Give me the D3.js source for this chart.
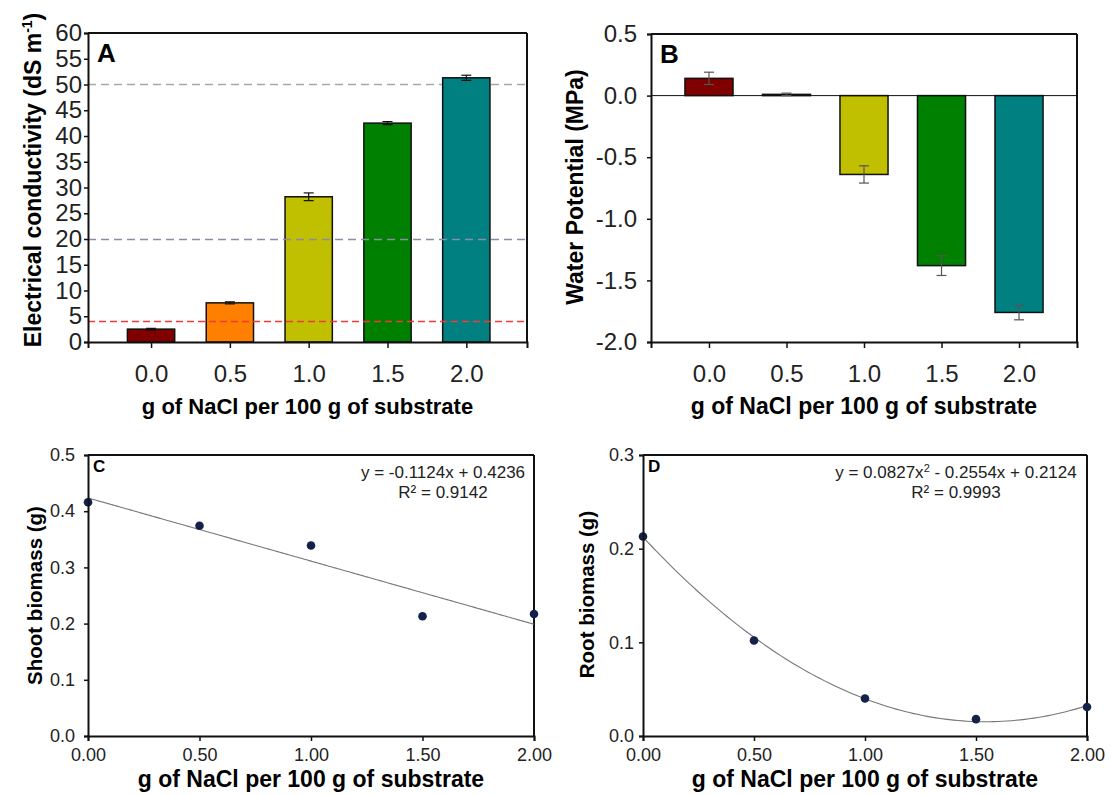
<!DOCTYPE html>
<meta charset="utf-8">
<head>
<title>NaCl substrate</title>
<script src="https://d3js.org/d3.v7.min.js"></script>
<style>
  body { margin: 0; background: white; }
  svg { font-family: "Liberation Sans", Arial, sans-serif; }
  .tick text { fill: #222; }
</style>
</head>
<body>
<div id="home"></div>
<script>
// data
let doses = [0.0, 0.5, 1.0, 1.5, 2.0];
let barColors = ["#800000", "#ff8000", "#c0c000", "#008000", "#008080"];

let ecValues = [2.5, 7.6, 28.2, 42.5, 51.3];
let ecErrors = [0.15, 0.2, 0.75, 0.3, 0.5];
let ecRefLines = [50, 20, 4];
let ecRefColors = ["#a8a8a8", "#8c8caa", "#ee3b3b"];

let wpValues = [0.14, 0.01, -0.64, -1.38, -1.76];
let wpErrors = [0.05, 0.01, 0.07, 0.08, 0.06];

let shootValues = [0.416, 0.374, 0.339, 0.213, 0.217];
let rootValues = [0.213, 0.102, 0.040, 0.018, 0.031];

// trendline coefficients printed on the chart (c0 + c1 x + c2 x^2)
let shootFit = [0.4236, -0.1124];
let rootFit = [0.2124, -0.2554, 0.0827];

let xTitle = "g of NaCl per 100 g of substrate";

let w = 1111, h = 795;
let svg = d3.select("#home").append("svg")
  .attr("width", w).attr("height", h);

function frame(g, box, lw) {
  g.append("line").attr("x1", box.l).attr("x2", box.r).attr("y1", box.t).attr("y2", box.t)
    .attr("stroke", "#111").attr("stroke-width", lw);
  g.append("line").attr("x1", box.r).attr("x2", box.r).attr("y1", box.t).attr("y2", box.b)
    .attr("stroke", "#111").attr("stroke-width", lw);
}

function styleAxis(a, fs) {
  a.select(".domain").attr("stroke", "#111").attr("stroke-width", 2);
  a.selectAll(".tick line").attr("stroke", "#111").attr("stroke-width", 1.5);
  a.selectAll(".tick text").style("font-size", fs + "px");
}

function yTitleText(g, x, y, txt, fs) {
  return g.append("text")
    .attr("transform", "translate(" + x + "," + y + ") rotate(-90)")
    .attr("text-anchor", "middle")
    .style("font-weight", "bold").style("font-size", fs + "px")
    .text(txt);
}

// ---------- bar panels ----------
function barPanel(opt) {
  let box = opt.box;
  let g = svg.append("g");
  let x = d3.scaleLinear().domain(opt.xDomain).range([box.l, box.r]);
  let y = d3.scaleLinear().domain(opt.yDomain).range([box.b, box.t]);
  let bw = x(opt.barWidth) - x(0);

  let refLine = (sel, data) => sel.selectAll(null).data(data).enter().append("line")
    .attr("x1", box.l).attr("x2", box.r)
    .attr("y1", d => Math.round(y(d[0])) + 0.5).attr("y2", d => Math.round(y(d[0])) + 0.5)
    .attr("stroke", d => d[1])
    .attr("stroke-width", d => d[0] < 10 ? 1.3 : 1.6)
    .attr("stroke-dasharray", d => d[0] < 10 ? "7,4" : "8,5");

  let refs = (opt.refs || []).map((r, i) => [r, opt.refColors[i]]);
  // the 50 line sits behind the bars, the others on top
  refLine(g, refs.filter(d => d[0] >= 50));

  g.selectAll(".bar").data(opt.values).enter().append("rect")
    .attr("x", (d, i) => x(doses[i]) - bw / 2)
    .attr("y", d => y(Math.max(0, d)))
    .attr("width", bw)
    .attr("height", d => Math.abs(y(d) - y(0)))
    .attr("fill", (d, i) => barColors[i])
    .attr("stroke", "#111").attr("stroke-width", 1.5);

  refLine(g, refs.filter(d => d[0] < 50));

  if (opt.zeroLine) {
    g.append("line").attr("x1", box.l).attr("x2", box.r)
      .attr("y1", y(0)).attr("y2", y(0))
      .attr("stroke", "#111").attr("stroke-width", 1);
  }

  // error bars
  let eb = g.selectAll(".err").data(opt.values).enter().append("g");
  let cap = 5;
  eb.append("line")
    .attr("x1", (d, i) => x(doses[i])).attr("x2", (d, i) => x(doses[i]))
    .attr("y1", (d, i) => y(d - opt.errors[i])).attr("y2", (d, i) => y(d + opt.errors[i]));
  eb.append("line")
    .attr("x1", (d, i) => x(doses[i]) - cap).attr("x2", (d, i) => x(doses[i]) + cap)
    .attr("y1", (d, i) => y(d + opt.errors[i])).attr("y2", (d, i) => y(d + opt.errors[i]));
  eb.append("line")
    .attr("x1", (d, i) => x(doses[i]) - cap).attr("x2", (d, i) => x(doses[i]) + cap)
    .attr("y1", (d, i) => y(d - opt.errors[i])).attr("y2", (d, i) => y(d - opt.errors[i]));
  eb.selectAll("line").attr("stroke", opt.errColor).attr("stroke-width", 1.2);

  frame(g, box, 2);

  let ya = g.append("g").attr("transform", "translate(" + box.l + ",0)")
    .call(d3.axisLeft(y).tickValues(opt.yTicks).tickSize(4).tickPadding(opt.yPad)
      .tickFormat(opt.yFmt));
  styleAxis(ya, 24);

  let xa = g.append("g").attr("transform", "translate(0," + box.b + ")")
    .call(d3.axisBottom(x).tickValues(doses).tickSize(6).tickPadding(17)
      .tickFormat(d => d.toFixed(1)));
  styleAxis(xa, 24);

  g.append("text").attr("x", (box.l + box.r) / 2).attr("y", box.b + 72)
    .attr("text-anchor", "middle")
    .style("font-weight", "bold").style("font-size", opt.xTitleSize + "px")
    .text(xTitle);

  g.append("text").attr("x", box.l + 9).attr("y", box.t + 29)
    .style("font-weight", "bold").style("font-size", "26px")
    .text(opt.letter);

  return g;
}

let gA = barPanel({
  box: {l: 88, r: 527, t: 33, b: 342},
  xDomain: [-0.4, 2.385], yDomain: [0, 60], barWidth: 0.3,
  values: ecValues, errors: ecErrors, errColor: "#111",
  refs: ecRefLines, refColors: ecRefColors,
  yTicks: d3.range(0, 61, 5), yFmt: d => d, yPad: 2,
  letter: "A", xTitleSize: 22
});
let tA = gA.append("text")
  .attr("transform", "translate(41,180) rotate(-90)")
  .attr("text-anchor", "middle")
  .style("font-weight", "bold").style("font-size", "23px");
tA.append("tspan").text("Electrical conductivity (dS m");
tA.append("tspan").attr("dy", -9).style("font-size", "14px").text("-1");
tA.append("tspan").attr("dy", 9).text(")");

let gB = barPanel({
  box: {l: 651, r: 1077, t: 34, b: 342},
  xDomain: [-0.374, 2.374], yDomain: [-2, 0.5], barWidth: 0.31,
  values: wpValues, errors: wpErrors, errColor: "#555",
  zeroLine: true,
  yTicks: d3.range(-2, 0.51, 0.5), yFmt: d => d.toFixed(1), yPad: 10,
  letter: "B", xTitleSize: 23
});
yTitleText(gB, 583, 187, "Water Potential (MPa)", 23);

// ---------- scatter panels ----------
function scatterPanel(opt) {
  let box = opt.box;
  let g = svg.append("g");
  let x = d3.scaleLinear().domain([0, 2]).range([box.l, box.r]);
  let y = d3.scaleLinear().domain(opt.yDomain).range([box.b, box.t]);

  frame(g, box, 2);

  let xs = d3.range(0, 2.0001, 0.02);
  let fit = opt.fit;
  let line = d3.line()
    .x(d => x(d))
    .y(d => y(fit.reduce((s, c, k) => s + c * Math.pow(d, k), 0)))
    .curve(d3.curveMonotoneX);
  g.append("path").datum(xs).attr("d", line)
    .attr("fill", "none").attr("stroke", "#777").attr("stroke-width", 1.1);

  g.selectAll(".pt").data(opt.values).enter().append("circle")
    .attr("cx", (d, i) => x(doses[i])).attr("cy", d => y(d))
    .attr("r", 4.3).attr("fill", "#14214a");

  let ya = g.append("g").attr("transform", "translate(" + box.l + ",0)")
    .call(d3.axisLeft(y).tickValues(opt.yTicks).tickSize(4).tickPadding(opt.yPad)
      .tickFormat(d => d.toFixed(1)));
  styleAxis(ya, 18);

  let xa = g.append("g").attr("transform", "translate(0," + box.b + ")")
    .call(d3.axisBottom(x).tickValues(doses).tickSize(5).tickPadding(7)
      .tickFormat(d => d.toFixed(2)));
  styleAxis(xa, 18);

  g.append("text").attr("x", (box.l + box.r) / 2).attr("y", box.b + 51)
    .attr("text-anchor", "middle")
    .style("font-weight", "bold").style("font-size", "23px")
    .text(xTitle);

  g.append("text").attr("x", box.l + 5).attr("y", box.t + 17)
    .style("font-weight", "bold").style("font-size", "17px")
    .text(opt.letter);

  let eq = g.append("text").attr("x", opt.eqX).attr("y", box.t + 23)
    .attr("text-anchor", "middle").style("font-size", "17px").style("fill", "#222");
  opt.eqParts.forEach(p => {
    let t = eq.append("tspan").text(p.t);
    if (p.sup) t.attr("dy", -6).style("font-size", "11px");
    if (p.down) t.attr("dy", 6);
  });
  g.append("text").attr("x", opt.eqX).attr("y", box.t + 43)
    .attr("text-anchor", "middle").style("font-size", "17px").style("fill", "#222")
    .text(opt.r2);

  yTitleText(g, opt.yTitleX, (box.t + box.b) / 2 + opt.yTitleShift, opt.yTitle, 20.5);
  return g;
}

scatterPanel({
  box: {l: 88, r: 534, t: 455, b: 736},
  yDomain: [0, 0.5], yTicks: d3.range(0, 0.51, 0.1), yPad: 9,
  values: shootValues, fit: shootFit,
  letter: "C", eqX: 443,
  eqParts: [{t: "y = -0.1124x + 0.4236"}],
  r2: "R\u00b2 = 0.9142",
  yTitle: "Shoot biomass (g)", yTitleX: 42, yTitleShift: 0
});

scatterPanel({
  box: {l: 643, r: 1087, t: 455, b: 736},
  yDomain: [0, 0.3], yTicks: d3.range(0, 0.31, 0.1), yPad: 5,
  values: rootValues, fit: rootFit,
  letter: "D", eqX: 956,
  eqParts: [{t: "y = 0.0827x"}, {t: "2", sup: true}, {t: " - 0.2554x + 0.2124", down: true}],
  r2: "R\u00b2 = 0.9993",
  yTitle: "Root biomass (g)", yTitleX: 594, yTitleShift: -1
});
</script>
</body>
